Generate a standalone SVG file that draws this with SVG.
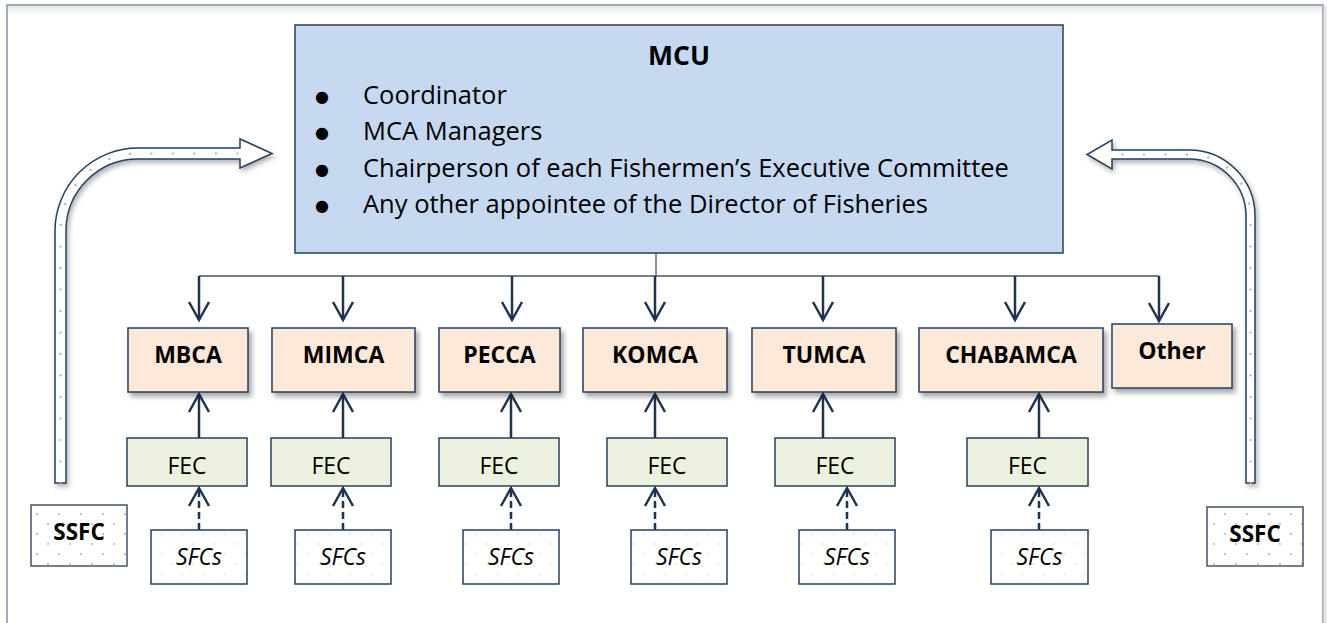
<svg xmlns="http://www.w3.org/2000/svg" width="1327" height="623" viewBox="0 0 1327 623">
<style>
text{font-family:"Open Sans","Liberation Sans",sans-serif;fill:#000}
.mcu{fill:#c6d9f1;stroke:#243f60;stroke-width:1.5}
.mca{fill:#fde9d9;stroke:#243f60;stroke-width:1.5;filter:url(#sh)}
.fec{fill:#ebf1de;stroke:#243f60;stroke-width:1.5}
.sfc{fill:url(#dotsG);stroke:#243f60;stroke-width:1.5}
.ssfc{fill:url(#dotsA);stroke:#44546a;stroke-width:1.5}
.b22{font-size:23px;font-weight:bold;text-anchor:middle}
.r22{font-size:23px;text-anchor:middle}
.i22{font-size:23px;font-style:italic;text-anchor:middle}
.bul{font-size:25.5px}
.dot{font-family:"DejaVu Sans",sans-serif;font-size:16px;text-anchor:middle}
.con{stroke:#1f3350;stroke-width:2.5;fill:none}
.dash{stroke-dasharray:7 4}
.thin{stroke:#44546a;stroke-width:1.3;fill:none}
.big{fill:#fff;stroke:#243f60;stroke-width:1.5;filter:url(#sh2)}
.bigdots{fill:none;stroke:#a8a8a8;stroke-width:2.2;stroke-linecap:round;stroke-dasharray:0 21.5}
</style>
<defs>
<filter id="sh" x="-10%" y="-10%" width="130%" height="140%">
<feDropShadow dx="3" dy="4" stdDeviation="2.5" flood-color="#000" flood-opacity="0.35"/>
</filter>
<filter id="sh2" x="-20%" y="-20%" width="140%" height="140%">
<feDropShadow dx="2" dy="3" stdDeviation="2.5" flood-color="#000" flood-opacity="0.3"/>
</filter>
<pattern id="dotsA" width="22" height="20" patternUnits="userSpaceOnUse">
<rect width="22" height="20" fill="#fff"/>
<circle cx="4" cy="4" r="0.9" fill="#a8a8a8"/>
<circle cx="15" cy="14" r="0.9" fill="#a8a8a8"/>
</pattern>
<pattern id="dotsG" width="21" height="20" patternUnits="userSpaceOnUse">
<rect width="21" height="20" fill="#fff"/>
<circle cx="4" cy="4" r="0.9" fill="#dfe6c8"/>
<circle cx="14.5" cy="14" r="0.9" fill="#dfe6c8"/>
</pattern>
<linearGradient id="topsh" x1="0" y1="0" x2="0" y2="1">
<stop offset="0" stop-color="#e6e6e6"/>
<stop offset="1" stop-color="#fff" stop-opacity="0"/>
</linearGradient>
<marker id="ah" markerUnits="userSpaceOnUse" viewBox="-20 -12 23 24" markerWidth="23" markerHeight="24" refX="0" refY="0" orient="auto" overflow="visible">
<path d="M-18,-10 L0,0 L-18,10" fill="none" stroke="#1f3350" stroke-width="2.5" stroke-linejoin="miter"/>
</marker>
</defs>

<rect x="0" y="0" width="1327" height="623" fill="#fff"/>
<g id="frame">
<rect x="8" y="6" width="1314" height="12" fill="url(#topsh)"/>
<path d="M7,640 L7,5 L1323,5 L1323,640" fill="none" stroke="#8090a6" stroke-width="1.5"/>
<rect x="1323.5" y="6" width="3.5" height="617" fill="#e4e4e4"/>
</g>

<g id="connectors">
<path class="thin" d="M656,253 L656,276"/>
<path class="thin" d="M199,276 L1159,276"/>
<path class="con" marker-end="url(#ah)" d="M199,276 L199,320"/>
<path class="con" marker-end="url(#ah)" d="M343,276 L343,320"/>
<path class="con" marker-end="url(#ah)" d="M512,276 L512,320"/>
<path class="con" marker-end="url(#ah)" d="M655,276 L655,320"/>
<path class="con" marker-end="url(#ah)" d="M823,276 L823,320"/>
<path class="con" marker-end="url(#ah)" d="M1015,276 L1015,320"/>
<path class="con" marker-end="url(#ah)" d="M1159,276 L1159,321"/>
<path class="con" marker-end="url(#ah)" d="M199,438 L199,394"/>
<path class="con" marker-end="url(#ah)" d="M343,438 L343,394"/>
<path class="con" marker-end="url(#ah)" d="M511,438 L511,394"/>
<path class="con" marker-end="url(#ah)" d="M655,438 L655,394"/>
<path class="con" marker-end="url(#ah)" d="M823,438 L823,394"/>
<path class="con" marker-end="url(#ah)" d="M1039,438 L1039,394"/>
<path class="con dash" marker-end="url(#ah)" d="M199,530 L199,488"/>
<path class="con dash" marker-end="url(#ah)" d="M343,530 L343,488"/>
<path class="con dash" marker-end="url(#ah)" d="M511,530 L511,488"/>
<path class="con dash" marker-end="url(#ah)" d="M655,530 L655,488"/>
<path class="con dash" marker-end="url(#ah)" d="M847,530 L847,488"/>
<path class="con dash" marker-end="url(#ah)" d="M1039,530 L1039,488"/>
<g id="left-bent-arrow">
<path class="big" d="M55,483 L55,231 A83,83 0 0 1 138,148 L240,148 L240,139 L272,153.5 L240,168 L240,159 L138,159 A72,72 0 0 0 66,231 L66,483 Z"/>
<path class="bigdots" d="M60.5,483 L60.5,231 A77.5,77.5 0 0 1 138,153.5 L250,153.5"/>
</g>
<g id="right-bent-arrow">
<path class="big" d="M1255,483 L1255,216 A66,66 0 0 0 1189,150 L1112,150 L1112,140 L1087,154.5 L1112,169 L1112,159 L1189,159 A57,57 0 0 1 1246,216 L1246,483 Z"/>
<path class="bigdots" d="M1250.5,483 L1250.5,216 A61.5,61.5 0 0 0 1189,154.5 L1105,154.5"/>
</g>
</g>

<g id="mcu">
<rect class="mcu" x="295" y="25" width="768" height="228"/>
<text x="679" y="65" style="font-size:26.5px;font-weight:bold;text-anchor:middle">MCU</text>
<text class="dot" x="322" y="101.5">●</text>
<text class="bul" x="363" y="104">Coordinator</text>
<text class="dot" x="322" y="138">●</text>
<text class="bul" x="363" y="140">MCA Managers</text>
<text class="dot" x="322" y="174.5">●</text>
<text class="bul" x="363" y="177">Chairperson of each Fishermen’s Executive Committee</text>
<text class="dot" x="322" y="210.5">●</text>
<text class="bul" x="363" y="213">Any other appointee of the Director of Fisheries</text>
</g>

<g id="mbca"><rect class="mca" x="128" y="328" width="120" height="64"/><text class="b22" x="188" y="363">MBCA</text></g>
<g id="mimca"><rect class="mca" x="272" y="328" width="143" height="64"/><text class="b22" x="343.5" y="363">MIMCA</text></g>
<g id="pecca"><rect class="mca" x="439" y="328" width="121" height="64"/><text class="b22" x="499.5" y="363">PECCA</text></g>
<g id="komca"><rect class="mca" x="583" y="328" width="144" height="64"/><text class="b22" x="655" y="363">KOMCA</text></g>
<g id="tumca"><rect class="mca" x="752" y="328" width="144" height="64"/><text class="b22" x="824" y="363">TUMCA</text></g>
<g id="chabamca"><rect class="mca" x="919" y="328" width="184" height="64"/><text class="b22" x="1011" y="363">CHABAMCA</text></g>
<g id="other"><rect class="mca" x="1112" y="324" width="120" height="64"/><text class="b22" x="1172" y="359">Other</text></g>

<g id="fec1"><rect class="fec" x="127" y="438" width="120" height="48"/><text class="r22" x="187" y="474">FEC</text></g>
<g id="fec2"><rect class="fec" x="271" y="438" width="120" height="48"/><text class="r22" x="331" y="474">FEC</text></g>
<g id="fec3"><rect class="fec" x="439" y="438" width="120" height="48"/><text class="r22" x="499" y="474">FEC</text></g>
<g id="fec4"><rect class="fec" x="607" y="438" width="120" height="48"/><text class="r22" x="667" y="474">FEC</text></g>
<g id="fec5"><rect class="fec" x="775" y="438" width="120" height="48"/><text class="r22" x="835" y="474">FEC</text></g>
<g id="fec6"><rect class="fec" x="967" y="438" width="121" height="48"/><text class="r22" x="1027.5" y="474">FEC</text></g>

<g id="sfcs1"><rect class="sfc" x="151" y="530" width="96" height="54"/><text class="i22" x="199" y="565">SFCs</text></g>
<g id="sfcs2"><rect class="sfc" x="295" y="530" width="96" height="54"/><text class="i22" x="343" y="565">SFCs</text></g>
<g id="sfcs3"><rect class="sfc" x="463" y="530" width="96" height="54"/><text class="i22" x="511" y="565">SFCs</text></g>
<g id="sfcs4"><rect class="sfc" x="631" y="530" width="96" height="54"/><text class="i22" x="679" y="565">SFCs</text></g>
<g id="sfcs5"><rect class="sfc" x="799" y="530" width="96" height="54"/><text class="i22" x="847" y="565">SFCs</text></g>
<g id="sfcs6"><rect class="sfc" x="991" y="530" width="97" height="54"/><text class="i22" x="1039.5" y="565">SFCs</text></g>

<g id="ssfc-left"><rect class="ssfc" x="31" y="505" width="96" height="61"/><text class="b22" x="79" y="540" style="font-size:22.5px">SSFC</text></g>
<g id="ssfc-right"><rect class="ssfc" x="1207" y="507" width="96" height="59"/><text class="b22" x="1255" y="542" style="font-size:22.5px">SSFC</text></g>
</svg>
